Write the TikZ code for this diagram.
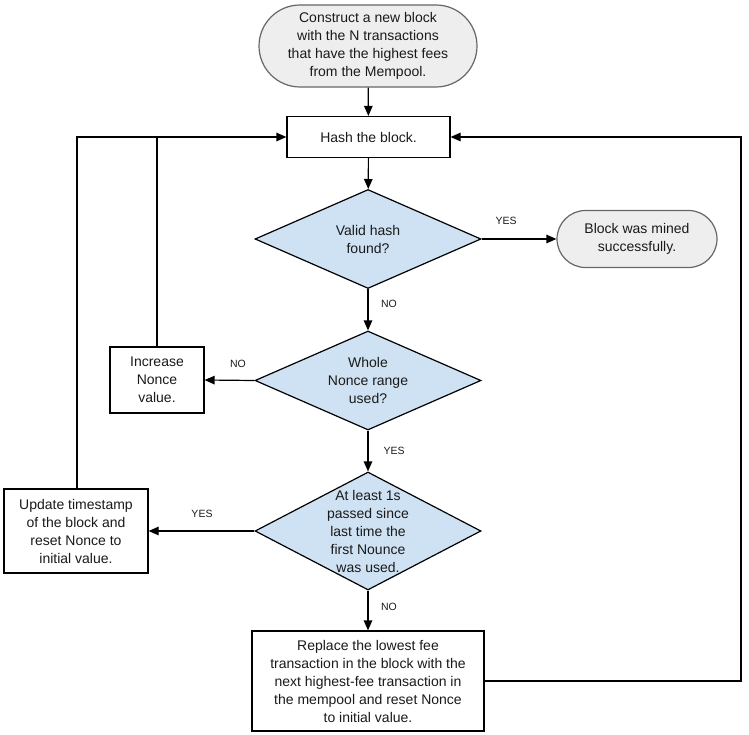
\documentclass[tikz,border=0pt]{standalone}
\usepackage{fontspec}
\setmainfont{Liberation Sans}
\usetikzlibrary{arrows.meta,shapes.geometric}
\definecolor{diafill}{HTML}{CFE2F3}
\definecolor{termfill}{HTML}{EEEEEE}
\definecolor{termdraw}{HTML}{666666}
\definecolor{txtcol}{HTML}{1A1A1A}
\tikzset{
  base/.style={font=\fontsize{14}{18}\selectfont, text=txtcol, align=center, inner sep=0pt},
  terminal/.style={base, draw=termdraw, fill=termfill, line width=1.2pt, rounded corners=#1},
  procbox/.style={base, draw=black, fill=white, line width=1.2pt},
  dia/.style={diamond, draw=black, fill=diafill, line width=1.2pt, inner sep=0pt, aspect=2.28},
  txt/.style={base},
  lbl/.style={font=\fontsize{10.5}{12}\selectfont, text=txtcol, inner sep=0pt},
  conn/.style={line width=1.2pt, -{Triangle[length=10pt,width=8.5pt]}},
  plain/.style={line width=1.2pt}
}
\begin{document}
\begin{tikzpicture}[x=1pt,y=-1pt]
\useasboundingbox (0,0) rectangle (749,735);
% nodes
\node[terminal=41pt, minimum width=218pt, minimum height=82pt] (start) at (368,46) {Construct a new block\\with the N transactions\\that have the highest fees\\from the Mempool.};
\node[procbox, minimum width=163pt, minimum height=41pt] (hash) at (368.5,137) {Hash the block.};
\node[dia, minimum width=226pt, minimum height=99pt] (valid) at (368,239) {};
\node[txt] (validt) at (valid.center) {Valid hash\\found?};
\node[terminal=28.5pt, minimum width=160pt, minimum height=57pt] (mined) at (637,239) {Block was mined\\successfully.};
\node[dia, minimum width=226pt, minimum height=99pt] (whole) at (368,380.5) {};
\node[txt] (wholet) at (whole.center) {Whole\\Nonce range\\used?};
\node[procbox, minimum width=94pt, minimum height=66pt] (incr) at (157,380) {Increase\\Nonce\\value.};
\node[dia, minimum width=226pt, minimum height=118pt, aspect=1.9] (least) at (368,531) {};
\node[txt] (leastt) at (least.center) {At least 1s\\passed since\\last time the\\first Nounce\\was used.};
\node[procbox, minimum width=144pt, minimum height=84pt] (upd) at (76,531) {Update timestamp\\of the block and\\reset Nonce to\\initial value.};
\node[procbox, minimum width=232pt, minimum height=100pt] (repl) at (368,681) {Replace the lowest fee\\transaction in the block with the\\next highest-fee transaction in\\the mempool and reset Nonce\\to initial value.};
% helper coordinates
\coordinate (c1) at (157,137);
\coordinate (c2) at (77,137);
\coordinate (c3) at (741,681);
\coordinate (c4) at (741,137);
% connectors
\draw[conn] (start) -- (hash);
\draw[conn] (hash) -- (valid);
\draw[conn] (valid.east) -- (mined.west);
\draw[conn] (valid.south) -- (whole.north);
\draw[conn] (whole.west) -- (incr.east);
\draw[conn] (whole.south) -- (least.north);
\draw[conn] (least.west) -- (upd.east);
\draw[conn] (least.south) -- (repl.north);
\draw[plain] (incr.north) -- (c1);
\draw[conn] (upd.north -| c2) -- (c2) -- (hash.west);
\draw[conn] (repl.east) -- (c3) -- (c4) -- (hash.east);
% labels
\node[lbl] (l1) at (506,221) {YES};
\node[lbl] (l2) at (389,304) {NO};
\node[lbl] (l3) at (238,364) {NO};
\node[lbl] (l4) at (394,451) {YES};
\node[lbl] (l5) at (202,514) {YES};
\node[lbl] (l6) at (389,607) {NO};
\end{tikzpicture}
\end{document}
